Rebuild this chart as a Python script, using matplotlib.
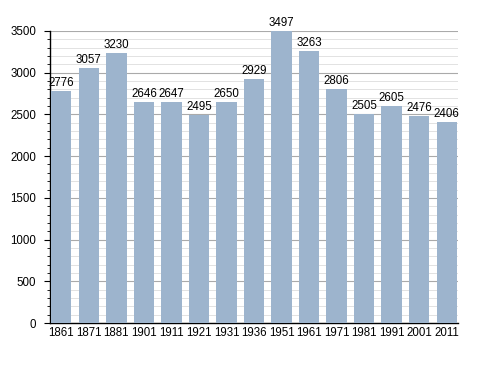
import matplotlib
matplotlib.use('Agg')
import matplotlib.pyplot as plt
from matplotlib.ticker import MultipleLocator

plt.rcParams['font.family'] = ['Liberation Sans', 'DejaVu Sans']

years = ['1861', '1871', '1881', '1901', '1911', '1921', '1931', '1936',
         '1951', '1961', '1971', '1981', '1991', '2001', '2011']
population = [2776, 3057, 3230, 2646, 2647, 2495, 2650, 2929,
              3497, 3263, 2806, 2505, 2605, 2476, 2406]

fig = plt.figure(figsize=(4.88, 3.73), dpi=100)
ax = fig.add_axes([0.1025, 0.134, 0.836, 0.783])

x = range(len(years))
w = 0.74
ax.bar(x, population, width=w, color='#9db4cd', zorder=3)
for i, v in zip(x, population):
    ax.text(i, v + 25, str(v), ha='center', va='bottom', fontsize=8.3, zorder=4)

ax.set_ylim(0, 3500)
ax.set_xlim(-w / 2 - 0.04, len(years) - 1 + w / 2 + 0.04)
ax.yaxis.set_major_locator(MultipleLocator(500))
ax.yaxis.set_minor_locator(MultipleLocator(100))
ax.grid(axis='y', which='major', color='#aaaaaa', linewidth=0.8, zorder=0)
ax.grid(axis='y', which='minor', color='#e2e2e2', linewidth=0.7, zorder=0)

ax.set_xticks(list(x))
ax.set_xticklabels(years)
ax.tick_params(axis='x', length=0, labelsize=8.3, pad=3)
ax.tick_params(axis='y', which='major', length=4, labelsize=8.3, pad=6)
ax.tick_params(axis='y', which='minor', length=2)

for s in ['top', 'right']:
    ax.spines[s].set_visible(False)
ax.spines['left'].set_linewidth(1)
ax.spines['bottom'].set_linewidth(1)

fig.savefig('out.png', dpi=100)
